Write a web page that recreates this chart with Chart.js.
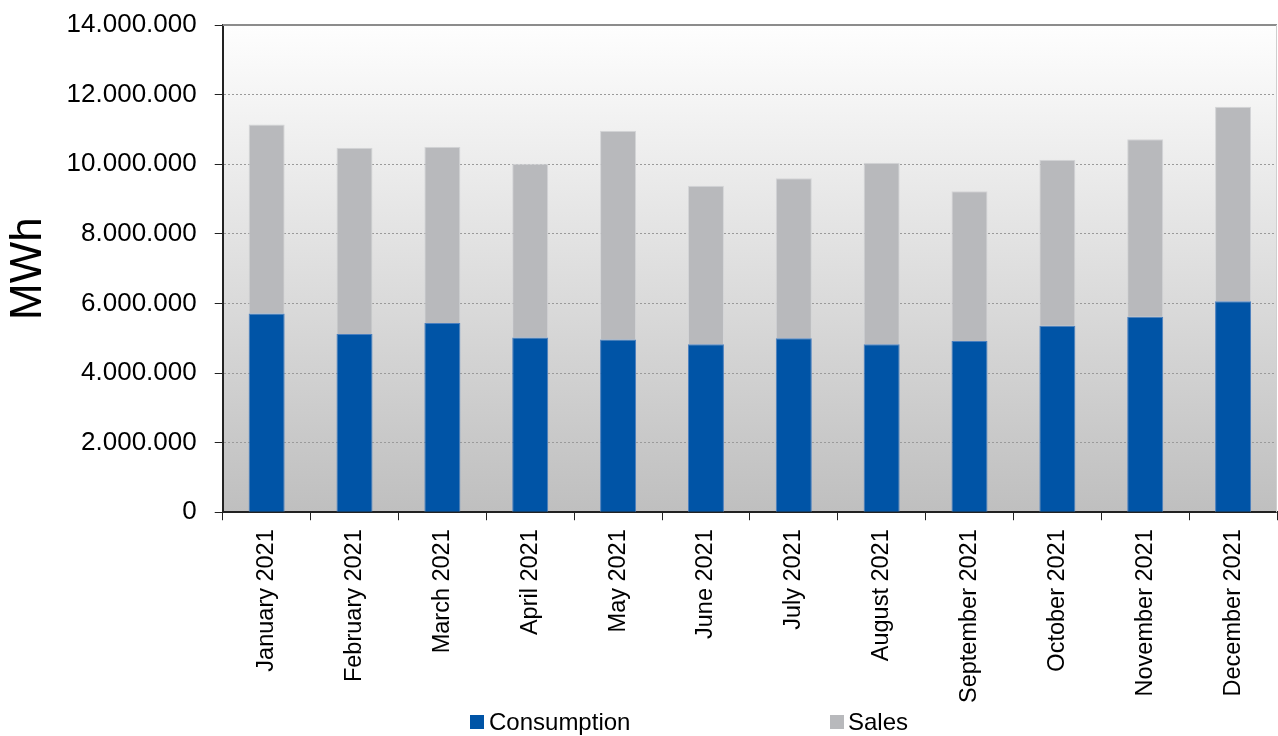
<!DOCTYPE html>
<html>
<head>
<meta charset="utf-8">
<script src="https://cdn.jsdelivr.net/npm/chart.js@4/dist/chart.umd.min.js"></script>
<style>
  body { margin: 0; background: #fff; }
  #wrap { position: relative; width: 1278px; height: 736px; }
  #legend { position: absolute; top: 707px; left: 0; width: 1278px; height: 29px;
            font-family: "Liberation Sans", Arial, sans-serif; font-size: 24px; color: #000; }
  #legend span { position: absolute; top: 1px; }
  #legend i { position: absolute; top: 8px; width: 14px; height: 14px; }
</style>
</head>
<body>
<div id="wrap">
  <canvas id="energyChart" width="1278" height="736"></canvas>
  <div id="legend">
    <i style="left:470px;background:#0054a6"></i><span style="left:489px">Consumption</span>
    <i style="left:830px;background:#b8b9bc"></i><span style="left:848px">Sales</span>
  </div>
</div>
<script>
const months = ['January 2021', 'February 2021', 'March 2021', 'April 2021', 'May 2021', 'June 2021',
    'July 2021', 'August 2021', 'September 2021', 'October 2021', 'November 2021', 'December 2021'];

// MWh
const consumption = [5710000, 5120000, 5440000, 5020000, 4960000, 4830000,
    5000000, 4830000, 4920000, 5360000, 5620000, 6060000];
const sales = [5430000, 5350000, 5060000, 4990000, 6000000, 4550000,
    4600000, 5210000, 4300000, 4770000, 5100000, 5590000];

const yMax = 14000000;
const yStep = 2000000;

// gray gradient behind the bars + frame on top/right
const plotBackground = {
    id: 'plotBackground',
    beforeDraw(chart) {
        const {ctx, chartArea: a} = chart;
        const g = ctx.createLinearGradient(0, a.top, 0, a.bottom);
        g.addColorStop(0, '#fefefe');
        g.addColorStop(1, '#bfbfbf');
        ctx.save();
        ctx.fillStyle = g;
        ctx.fillRect(a.left, a.top, a.right - a.left, a.bottom - a.top);
        ctx.restore();
    },
    afterDatasetsDraw(chart) {
        const {ctx, chartArea: a} = chart;
        ctx.save();
        ctx.strokeStyle = '#8c8c8c';
        ctx.lineWidth = 2;
        ctx.beginPath();
        ctx.moveTo(a.left, a.top);
        ctx.lineTo(a.right, a.top);
        ctx.stroke();
        ctx.strokeStyle = '#cfcfcf';
        ctx.lineWidth = 1;
        ctx.beginPath();
        ctx.moveTo(a.right - 0.5, a.top);
        ctx.lineTo(a.right - 0.5, a.bottom);
        ctx.stroke();
        ctx.restore();
    }
};

const fmt = v => String(v).replace(/\B(?=(\d{3})+(?!\d))/g, '.');

const ctx = document.getElementById('energyChart').getContext('2d');
new Chart(ctx, {
    type: 'bar',
    data: {
        labels: months,
        datasets: [{
            label: 'Consumption',
            data: consumption,
            backgroundColor: '#0054a6',
            borderColor: '#4a7fbf',
            borderWidth: 1
        }, {
            label: 'Sales',
            data: sales,
            backgroundColor: '#b8b9bc',
            borderColor: '#d4d5d7',
            borderWidth: 1
        }]
    },
    plugins: [plotBackground],
    options: {
        responsive: false,
        animation: false,
        devicePixelRatio: 1,
        layout: { padding: { left: 0, right: 1, top: 25, bottom: 24 } },
        datasets: { bar: { categoryPercentage: 1, barPercentage: 0.41 } },
        plugins: {
            legend: { display: false },
            tooltip: { enabled: false }
        },
        scales: {
            x: {
                stacked: true,
                grid: {
                    offset: true,
                    drawOnChartArea: false,
                    drawTicks: true,
                    tickLength: 8,
                    tickColor: '#222'
                },
                border: { display: true, color: '#222', width: 2 },
                ticks: {
                    minRotation: 90,
                    maxRotation: 90,
                    padding: 9,
                    color: '#000',
                    font: { family: '"Liberation Sans", Arial, sans-serif', size: 23.5 }
                }
            },
            y: {
                stacked: true,
                min: 0,
                max: yMax,
                grid: {
                    color: '#9a9a9a',
                    tickColor: '#222',
                    tickLength: 8
                },
                border: { display: true, color: '#222', width: 2, dash: [2, 2] },
                ticks: {
                    stepSize: yStep,
                    padding: 18,
                    color: '#000',
                    font: { family: '"Liberation Sans", Arial, sans-serif', size: 26, lineHeight: 0.5 },
                    callback: v => fmt(v)
                },
                title: {
                    display: true,
                    text: 'MWh',
                    color: '#000',
                    padding: { top: 9, bottom: 0 },
                    font: { family: '"Liberation Sans", Arial, sans-serif', size: 44, lineHeight: 0.9 }
                }
            }
        }
    }
});
</script>
</body>
</html>
